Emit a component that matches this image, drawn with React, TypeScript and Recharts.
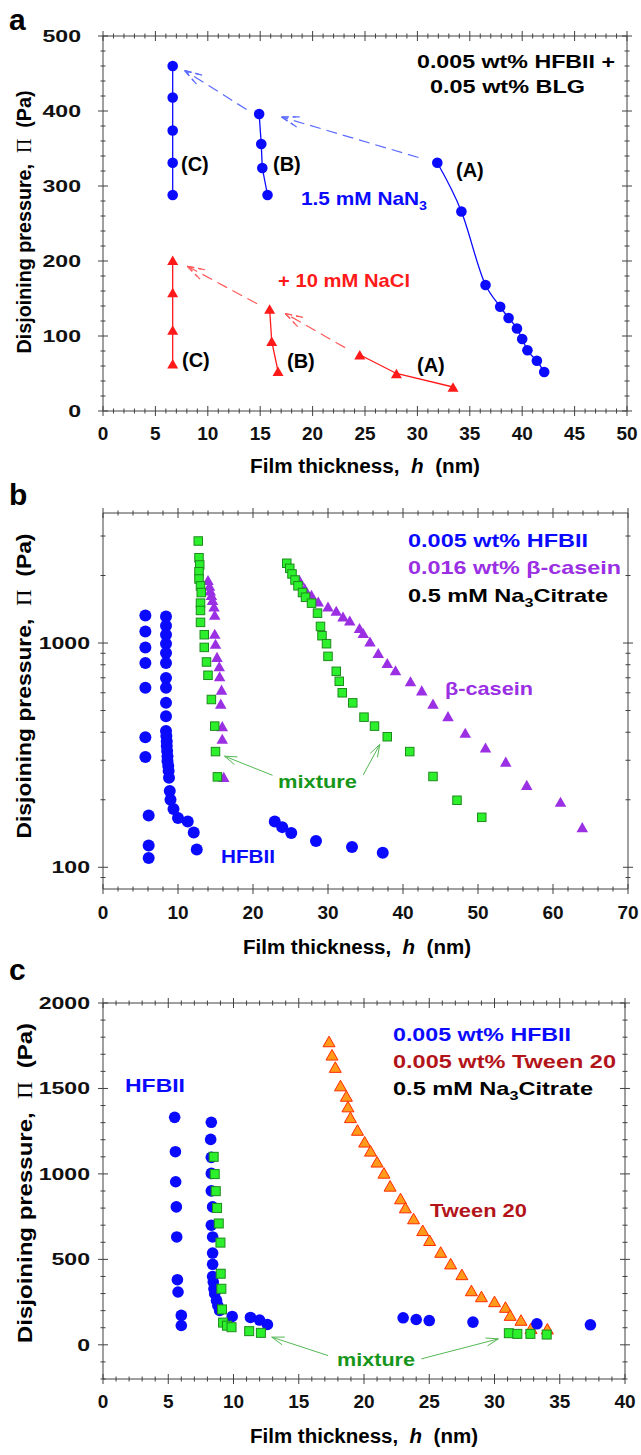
import React from "react";
import { ScatterChart, Scatter, XAxis, YAxis, ReferenceLine } from "recharts";

type Pt = [number, number];

// ---------- panel a : HFBII + BLG ----------
const aNaN3C: Pt[] = [[6.65, 460], [6.65, 418], [6.65, 374], [6.65, 331], [6.65, 288]];
const aNaN3B: Pt[] = [[14.9, 396], [15.1, 356], [15.2, 324], [15.7, 288]];
const aNaN3A: Pt[] = [[31.9, 331], [34.2, 266], [36.5, 168], [37.9, 139], [38.7, 124], [39.5, 110], [40.0, 96], [40.5, 81], [41.4, 67], [42.1, 52]];
const aNaClC: Pt[] = [[6.65, 201], [6.65, 158], [6.65, 108], [6.65, 63]];
const aNaClB: Pt[] = [[15.9, 136], [16.1, 93], [16.7, 53]];
const aNaClA: Pt[] = [[24.5, 75], [28.0, 50], [33.4, 32]];
const aBlueArrows: [Pt, Pt][] = [[[30.1, 338], [17.05, 392]], [[13.7, 402], [7.8, 454]]];
const aRedArrows: [Pt, Pt][] = [[[23.1, 84.5], [17.4, 130]], [[14.7, 143], [8.05, 193]]];

// ---------- panel b : HFBII / beta-casein ----------
const bHfbii: Pt[] = [
  [5.65, 1327], [5.65, 1126], [5.65, 956], [5.65, 815], [5.65, 631], [5.65, 380], [5.65, 310], [6.09, 170], [6.09, 125], [6.09, 110],
  [8.4, 1313], [8.4, 1194], [8.4, 1089], [8.4, 993], [8.4, 903], [8.4, 815], [8.4, 699], [8.4, 631], [8.4, 541], [8.4, 472], [8.4, 405],
  [8.45, 385], [8.5, 365], [8.5, 347], [8.55, 330], [8.6, 313], [8.6, 298], [8.7, 283], [8.75, 269], [8.8, 251], [8.9, 219], [9.0, 200],
  [9.4, 182], [10.0, 166], [11.3, 160], [12.1, 143], [12.5, 120],
  [22.9, 160], [23.9, 151], [25.1, 142], [28.4, 131], [33.2, 123], [37.3, 116],
];
const bCasein: Pt[] = [
  [14.0, 1910], [14.2, 1800], [14.3, 1715], [14.45, 1640], [14.6, 1557], [14.8, 1455], [14.9, 1336], [14.9, 1100], [15.0, 993],
  [15.2, 867], [15.5, 788], [15.55, 711], [15.8, 620], [15.7, 537], [15.9, 426], [15.9, 374], [16.1, 253],
  [26.2, 1910], [26.9, 1755], [27.8, 1640], [28.7, 1531], [30.0, 1455], [31.1, 1392], [32.0, 1313], [32.9, 1260], [34.2, 1166],
  [34.7, 1108], [35.6, 1016], [36.7, 903], [37.9, 815], [39.0, 756], [41.0, 675], [42.5, 615], [44.0, 537], [46.0, 472],
  [48.3, 398], [51.0, 342], [53.7, 296], [56.5, 233], [61.0, 196], [63.9, 151],
];
const bMixture: Pt[] = [
  [12.7, 2850], [12.8, 2400], [12.9, 2228], [12.8, 2080], [12.8, 1930], [13.0, 1798], [13.1, 1679], [13.0, 1506], [13.0, 1397],
  [13.0, 1236], [13.5, 1089], [13.5, 956], [13.8, 823], [14.0, 718], [14.45, 560], [14.9, 426], [15.0, 328], [15.25, 253],
  [24.5, 2268], [24.9, 2153], [25.2, 2032], [25.6, 1910], [26.0, 1800], [26.6, 1679], [27.0, 1600], [27.8, 1506], [28.6, 1359],
  [29.0, 1186], [29.2, 1078], [29.8, 993], [30.0, 872], [31.1, 748], [31.5, 675], [31.9, 600], [33.3, 541], [34.8, 467],
  [36.2, 426], [37.9, 382], [40.9, 328], [44.0, 254], [47.2, 199], [50.5, 167],
];
const bArrows: [Pt, Pt][] = [[[22.6, 257], [16.2, 313]], [[34.7, 258], [36.9, 353]]];

// ---------- panel c : HFBII / Tween 20 ----------
const cHfbii: Pt[] = [
  [5.49, 1331], [5.55, 1130], [5.57, 954], [5.62, 807], [5.65, 631], [5.7, 381], [5.75, 309], [6.0, 172], [6.0, 113],
  [8.3, 1302], [8.25, 1202], [8.3, 1097], [8.3, 1003], [8.3, 901], [8.4, 807], [8.3, 700], [8.4, 631], [8.4, 537], [8.4, 471],
  [8.4, 400], [8.45, 367], [8.5, 328], [8.56, 299], [8.7, 260], [8.8, 230], [8.94, 201], [9.9, 166], [11.3, 160], [12.0, 145], [12.6, 119],
  [23.0, 158], [24.0, 148], [25.0, 142], [28.35, 133], [33.25, 123], [37.35, 117],
];
const cTween: Pt[] = [
  [17.32, 1775], [17.55, 1697], [17.8, 1625], [18.2, 1517], [18.65, 1456], [18.77, 1394], [18.96, 1331], [19.5, 1257],
  [20.05, 1188], [20.5, 1135], [21.0, 1071], [21.53, 1006], [22.0, 930], [22.8, 856], [23.17, 803], [23.8, 739], [24.5, 670],
  [25.03, 612], [25.88, 543], [26.64, 475], [27.5, 412], [28.23, 318], [29.0, 283], [30.0, 254], [30.84, 221], [31.2, 174],
  [32.03, 145], [32.8, 97], [34.05, 94],
];
const cMixture: Pt[] = [
  [8.48, 1100], [8.56, 999], [8.64, 899], [8.74, 801], [8.87, 710], [9.0, 598], [9.02, 416], [9.07, 328], [9.12, 207],
  [9.2, 130], [9.5, 112], [9.85, 103], [11.2, 80], [12.1, 70], [31.1, 68], [31.75, 64], [32.75, 64], [34.0, 60],
];
const cArrows: [Pt, Pt][] = [[[17.25, -63], [12.93, 45]], [[24.4, -82], [30.3, 35]]];

// ---------- ticks ----------
const range = (a: number, b: number, s: number) => {
  const out: number[] = [];
  for (let v = a; v <= b + 1e-9; v += s) out.push(Math.round(v * 1000) / 1000);
  return out;
};
const aXTicks = range(0, 50, 1);
const aYTicks = range(0, 500, 20);
const bXTicks = range(0, 70, 2);
const bYTicks = [90, 100, 200, 300, 400, 500, 600, 700, 800, 900, 1000, 2000, 3000];
const cXTicks = range(0, 40, 1);
const cYTicks = range(-200, 2000, 100);

const FONT = "'Liberation Sans', Arial, Helvetica, sans-serif";
const AXIS = "#404040";
const BLUE = "#0a0aff";
const RED = "#ff1a1a";
const PURPLE = "#9a2fe3";
const GREEN_FILL = "#2cf02c";
const GREEN_EDGE = "#1c8c1c";
const DARKRED = "#b3141a";

const toXY = (pts: Pt[]) => pts.map(([x, y]) => ({ x, y }));

// custom tick: draws the tick mark across the axis plus (optionally) the label
type Side = "left" | "right" | "top" | "bottom";
const makeTick = (side: Side, isMajor: (v: number) => boolean, label?: { gap: number; size: number; scaleX?: number }) =>
  (props: any) => {
    const { x, y, payload } = props;
    const v = payload.value;
    const major = isMajor(v);
    const len = major ? 5 : 2.5;
    const vertical = side === "left" || side === "right";
    return (
      <g>
        {vertical ? (
          <line x1={x - len} x2={x + len} y1={y} y2={y} stroke={AXIS} strokeWidth={1} />
        ) : (
          <line x1={x} x2={x} y1={y - len} y2={y + len} stroke={AXIS} strokeWidth={1} />
        )}
        {label && major && side === "left" && (
          <text
            transform={`translate(${x - label.gap},${y + 6}) scale(${label.scaleX ?? 1},1)`}
            textAnchor="end" fontFamily={FONT} fontWeight="bold" fontSize={label.size} fill="#111"
          >
            {v}
          </text>
        )}
        {label && major && side === "bottom" && (
          <text x={x} y={y + label.gap} textAnchor="middle" fontFamily={FONT} fontWeight="bold" fontSize={label.size} fill="#111">
            {v}
          </text>
        )}
      </g>
    );
  };

const circle = (r: number, fill: string) => (p: any) => <circle cx={p.cx} cy={p.cy} r={r} fill={fill} />;
const triangle = (w: number, fill: string, stroke?: string) => (p: any) => {
  const h = w * 0.88;
  return (
    <polygon
      points={`${p.cx},${p.cy - h / 2} ${p.cx + w / 2},${p.cy + h / 2} ${p.cx - w / 2},${p.cy + h / 2}`}
      fill={fill} stroke={stroke ?? "none"} strokeWidth={stroke ? 1 : 0}
    />
  );
};
const square = (s: number, fill: string, stroke: string) => (p: any) => (
  <rect x={p.cx - s / 2} y={p.cy - s / 2} width={s} height={s} fill={fill} stroke={stroke} strokeWidth={1} />
);

// open arrowhead; the dashed variant gets a second, inner pair of barbs like the reference
const arrowShape = (color: string, dash?: string, width = 1.2) => (p: any) => {
  const { x1, y1, x2, y2 } = p;
  const ang = Math.atan2(y2 - y1, x2 - x1);
  const barb = (L: number, s: number, off: number) => {
    const tx = x2 - off * Math.cos(ang);
    const ty = y2 - off * Math.sin(ang);
    return [
      [tx, ty, tx - L * Math.cos(ang - s), ty - L * Math.sin(ang - s)],
      [tx, ty, tx - L * Math.cos(ang + s), ty - L * Math.sin(ang + s)],
    ];
  };
  const heads = dash ? [...barb(22, 0.3, 0), ...barb(14, 0.3, 0)] : barb(13, 0.32, 0);
  return (
    <g stroke={color} strokeWidth={width} fill="none">
      <line x1={x1} y1={y1} x2={x2} y2={y2} strokeDasharray={dash} />
      {heads.map((h, i) => (
        <line key={i} x1={h[0]} y1={h[1]} x2={h[2]} y2={h[3]} strokeDasharray={dash ? "7 4" : undefined} />
      ))}
    </g>
  );
};

const arrowLines = (arrows: [Pt, Pt][], color: string, dash?: string, width?: number) =>
  arrows.map(([from, to], i) => (
    <ReferenceLine
      key={`ar${color}${i}`}
      segment={[{ x: from[0], y: from[1] }, { x: to[0], y: to[1] }]}
      ifOverflow="visible"
      stroke={color}
      shape={arrowShape(color, dash, width)}
    />
  ));

const axisCommon = {
  type: "number" as const,
  allowDataOverflow: true,
  interval: 0 as const,
  tickSize: 0,
  tickMargin: 0,
  tickLine: false,
  axisLine: { stroke: AXIS, strokeWidth: 1 },
};

// box of four axes: bottom / left carry labels, top / right only ticks
function axes(
  xDomain: [number, number], yDomain: [number, number], xTicks: number[], yTicks: number[],
  xMajor: (v: number) => boolean, yMajor: (v: number) => boolean, yGap: number, xGap: number, yLog = false,
) {
  const yScale = yLog ? "log" : "auto";
  return [
    <XAxis key="xb" {...axisCommon} dataKey="x" domain={xDomain} ticks={xTicks} height={1}
      tick={makeTick("bottom", xMajor, { gap: xGap, size: 19 })} />,
    <XAxis key="xt" {...axisCommon} xAxisId="top" orientation="top" dataKey="x" domain={xDomain} ticks={xTicks} height={1}
      tick={makeTick("top", xMajor)} />,
    <YAxis key="yl" {...axisCommon} dataKey="y" scale={yScale as any} domain={yDomain} ticks={yTicks} width={1}
      tick={makeTick("left", yMajor, { gap: yGap, size: 16.5, scaleX: 1.4 })} />,
    <YAxis key="yr" {...axisCommon} yAxisId="right" orientation="right" dataKey="y" scale={yScale as any} domain={yDomain} ticks={yTicks} width={1}
      tick={makeTick("right", yMajor)} />,
  ];
}

function PanelA() {
  return (
    <ScatterChart width={641} height={480} margin={{ top: 35, right: 13, bottom: 68, left: 102 }}>
      {axes([0, 50], [0, 500], aXTicks, aYTicks, (v) => v % 5 === 0, (v) => v % 100 === 0, 22, 29)}
      {arrowLines(aBlueArrows, "#5b6bff", "11 6")}
      {arrowLines(aRedArrows, "#ff5a5a", "11 6")}
      <Scatter data={toXY(aNaN3C)} line={{ stroke: BLUE, strokeWidth: 1.3 }} shape={circle(5.3, BLUE)} isAnimationActive={false} />
      <Scatter data={toXY(aNaN3B)} line={{ stroke: BLUE, strokeWidth: 1.3 }} shape={circle(5.3, BLUE)} isAnimationActive={false} />
      <Scatter data={toXY(aNaN3A)} line={{ stroke: BLUE, strokeWidth: 1.3 }} lineJointType="monotoneX" shape={circle(5.3, BLUE)} isAnimationActive={false} />
      <Scatter data={toXY(aNaClC)} line={{ stroke: RED, strokeWidth: 1.3 }} shape={triangle(11, RED)} isAnimationActive={false} />
      <Scatter data={toXY(aNaClB)} line={{ stroke: RED, strokeWidth: 1.3 }} shape={triangle(11, RED)} isAnimationActive={false} />
      <Scatter data={toXY(aNaClA)} line={{ stroke: RED, strokeWidth: 1.3 }} shape={triangle(11, RED)} isAnimationActive={false} />
    </ScatterChart>
  );
}

function PanelB() {
  return (
    <ScatterChart width={641} height={480} margin={{ top: 32, right: 12, bottom: 70, left: 102 }}>
      {axes([0, 70], [80, 3800], bXTicks, bYTicks, (v) => v % 10 === 0, (v) => v === 100 || v === 1000, 13, 30, true)}
      {arrowLines(bArrows, "#55b855", undefined, 1)}
      <Scatter data={toXY(bHfbii)} shape={circle(6, BLUE)} isAnimationActive={false} />
      <Scatter data={toXY(bCasein)} shape={triangle(11.5, PURPLE)} isAnimationActive={false} />
      <Scatter data={toXY(bMixture)} shape={square(8.5, GREEN_FILL, GREEN_EDGE)} isAnimationActive={false} />
    </ScatterChart>
  );
}

function PanelC() {
  return (
    <ScatterChart width={641} height={495} margin={{ top: 42, right: 15, bottom: 75, left: 102 }}>
      {axes([0, 40], [-200, 2000], cXTicks, cYTicks, (v) => v % 5 === 0, (v) => v % 500 === 0, 13, 29)}
      {arrowLines(cArrows, "#55b855", undefined, 1)}
      <Scatter data={toXY(cTween)} shape={triangle(12, "#ff9a1a", "#ff2a00")} isAnimationActive={false} />
      <Scatter data={toXY(cHfbii)} shape={circle(5.8, BLUE)} isAnimationActive={false} />
      <Scatter data={toXY(cMixture)} shape={square(9, GREEN_FILL, GREEN_EDGE)} isAnimationActive={false} />
    </ScatterChart>
  );
}

function T({
  x, y, w, size = 19, color = "#000", anchor = "start", rotate = false, children,
}: {
  x: number; y: number; w?: number; size?: number; color?: string; anchor?: string; rotate?: boolean; children: React.ReactNode;
}) {
  return (
    <text
      x={rotate ? 0 : x}
      y={rotate ? 0 : y}
      transform={rotate ? `translate(${x},${y}) rotate(-90)` : undefined}
      fontFamily={FONT}
      fontWeight="bold"
      fontSize={size}
      fill={color}
      textAnchor={anchor as any}
      textLength={w}
      lengthAdjust={w ? "spacingAndGlyphs" : undefined}
      style={{ whiteSpace: "pre" }}
    >
      {children}
    </text>
  );
}

const Pi = () => (
  <tspan fontFamily="'Liberation Serif', 'Times New Roman', serif" fontWeight="normal">Π</tspan>
);
const yTitle = <>Disjoining pressure,  <Pi />  (Pa)</>;
const xTitle = <>Film thickness,  <tspan fontStyle="italic">h</tspan>  (nm)</>;
const citrate = <>0.5 mM Na<tspan dy={5} fontSize={13}>3</tspan><tspan dy={-5}>Citrate</tspan></>;

function Overlay() {
  return (
    <svg width={641} height={1455} style={{ position: "absolute", left: 0, top: 0, pointerEvents: "none" }}>
      {/* panel a */}
      <T x={9} y={30} size={30}>a</T>
      <T x={31} y={222} w={263} size={20} anchor="middle" rotate>{yTitle}</T>
      <T x={365} y={473} w={230} size={20} anchor="middle">{xTitle}</T>
      <T x={417} y={68} w={198}>0.005 wt% HFBII +</T>
      <T x={430} y={93} w={155}>0.05 wt% BLG</T>
      <T x={181} y={171} size={20}>(C)</T>
      <T x={273} y={171} size={20}>(B)</T>
      <T x={456} y={177} size={20}>(A)</T>
      <T x={182} y={367} size={20}>(C)</T>
      <T x={287} y={368} size={20}>(B)</T>
      <T x={417} y={372} size={20}>(A)</T>
      <T x={301} y={205} w={126} color={BLUE}>1.5 mM NaN<tspan dy={5} fontSize={13}>3</tspan></T>
      <T x={278} y={287} w={132} color={RED}>+ 10 mM NaCl</T>

      {/* panel b */}
      <T x={9} y={505} size={30}>b</T>
      <T x={31} y={686} w={305} size={21} anchor="middle" rotate>{yTitle}</T>
      <T x={357} y={954} w={228} size={20} anchor="middle">{xTitle}</T>
      <T x={408} y={547} w={180} color={BLUE}>0.005 wt% HFBII</T>
      <T x={408} y={574} w={213} color={PURPLE}>0.016 wt% β-casein</T>
      <T x={408} y={602} w={200}>{citrate}</T>
      <T x={445} y={695} w={88} color={PURPLE}>β-casein</T>
      <T x={278} y={788} w={79} color="#16961a">mixture</T>
      <T x={221} y={863} w={54} color={BLUE}>HFBII</T>

      {/* panel c */}
      <T x={9} y={980} size={30}>c</T>
      <T x={32} y={1183} w={320} size={21} anchor="middle" rotate>{yTitle}</T>
      <T x={364} y={1443} w={228} size={20} anchor="middle">{xTitle}</T>
      <T x={393} y={1041} w={178} color={BLUE}>0.005 wt% HFBII</T>
      <T x={393} y={1068} w={223} color={DARKRED}>0.005 wt% Tween 20</T>
      <T x={393} y={1095} w={200}>{citrate}</T>
      <T x={430} y={1217} w={97} color={DARKRED}>Tween 20</T>
      <T x={125} y={1092} w={60} color={BLUE}>HFBII</T>
      <T x={337} y={1366} w={78} color="#16961a">mixture</T>
    </svg>
  );
}

export default function App() {
  return (
    <div style={{ position: "absolute", left: 0, top: 0, width: 641, height: 1455, background: "#fff", overflow: "hidden" }}>
      <div style={{ position: "absolute", left: 0, top: 0 }}>
        <PanelA />
      </div>
      <div style={{ position: "absolute", left: 0, top: 480 }}>
        <PanelB />
      </div>
      <div style={{ position: "absolute", left: 0, top: 960 }}>
        <PanelC />
      </div>
      <Overlay />
    </div>
  );
}
